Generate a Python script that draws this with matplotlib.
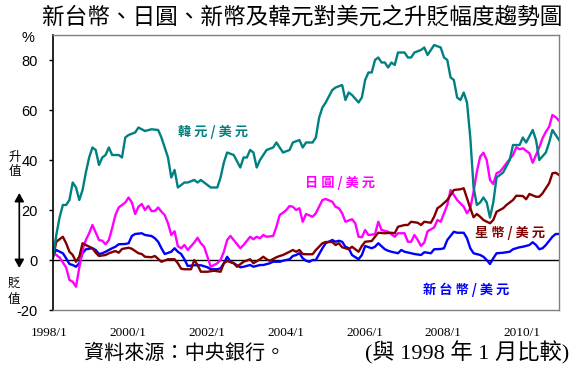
import matplotlib
matplotlib.use("Agg")
import matplotlib.pyplot as plt
from matplotlib.transforms import ScaledTranslation

plt.rcParams['axes.unicode_minus'] = False
CJK = ['Noto Sans CJK TC', 'DejaVu Sans']
SERIF = ['Liberation Serif', 'Noto Sans CJK TC', 'DejaVu Sans']
NARROW = ['Liberation Sans Narrow', 'Liberation Sans', 'DejaVu Sans']

# (months since 1998/1, % change vs 1998/1)
krw = [(0, 1), (1, 10), (2, 17), (3, 22), (4, 22), (5, 24), (6, 31), (7, 29), (8, 24), (9, 28),
       (10, 35), (11, 41), (12, 45), (13, 44), (14, 38), (15, 41), (16, 42), (17, 45), (18, 42),
       (20, 42), (21, 41), (22, 49), (23, 50), (25, 51), (26, 53), (28, 51.6), (30, 52.3),
       (32, 52), (33, 49), (35, 41), (36, 33), (37, 36), (38, 29), (40, 31), (41, 31), (43, 32),
       (44, 31), (45, 32), (47, 30), (48, 29), (50, 29), (51, 33), (52, 39), (53, 43), (55, 42),
       (57, 37), (58, 41), (59, 41), (60, 44), (61, 43), (62, 37), (63, 40), (64, 42), (65, 44),
       (67, 45), (68, 47), (69, 45), (70, 43), (72, 44), (73, 47), (75, 48), (76, 45), (77, 47),
       (79, 47), (80, 49), (81, 57), (82, 61), (83, 63), (85, 68), (86, 69), (88, 70), (89, 64),
       (90, 67), (91, 66), (93, 63), (94, 65), (95, 72), (96, 75), (97, 75), (98, 80), (99, 81),
       (100, 79), (101, 79), (102, 77), (103, 79), (104, 78), (105, 83), (107, 83), (108, 81),
       (109, 81), (110, 83), (112, 84), (113, 85), (114, 82), (116, 86), (118, 85), (119, 81),
       (120, 80), (121, 73), (122, 72), (123, 65), (124, 64), (125, 67), (126, 63), (127, 49),
       (128, 29), (129, 22), (130, 23), (131, 25), (132, 23), (133, 17), (134, 23), (135, 33),
       (137, 35), (139, 40), (140, 46), (142, 46), (143, 49), (144, 47), (146, 52), (147, 48),
       (148, 40), (150, 43), (151, 47), (152, 52), (153, 50), (154, 48)]

jpy = [(0, 3), (2, 1), (4, -3), (5, -8), (6, -8.7), (7, -10.7), (8, -3), (9, 4), (10, 8),
       (11, 10.7), (12, 14), (13, 11), (14, 8), (15, 7.7), (16, 6.3), (17, 8), (18, 12.7),
       (19, 18), (20, 21), (22, 23), (23, 25), (24, 23), (25, 18.4), (26, 21.3), (27, 22.4),
       (28, 20), (29, 21.6), (30, 19.6), (31, 19.6), (32, 21), (33, 19.3), (34, 18), (35, 14.7),
       (36, 10), (37, 11.5), (38, 5.5), (39, 4.7), (40, 6), (41, 4), (43, 7), (44, 8.9),
       (45, 6.7), (46, 5.3), (47, 1.3), (48, -2.7), (49, -2), (50, -1.3), (51, 0), (52, 3.3),
       (53, 8), (54, 9.6), (55, 8), (57, 4.7), (58, 6), (60, 9.3), (61, 8.3), (62, 9.3),
       (63, 8.7), (64, 10), (65, 9.3), (67, 9.6), (68, 13.3), (69, 18), (70, 18.9), (71, 20),
       (72, 21.6), (73, 21.3), (74, 20), (75, 20.7), (76, 15.3), (77, 18.4), (79, 17.3),
       (80, 18.7), (82, 24), (83, 24.4), (85, 23.3), (86, 21.3), (87, 20.7), (88, 18.7),
       (89, 15.3), (91, 16.3), (92, 14.7), (93, 9.3), (94, 9.1), (95, 12), (96, 10), (98, 10.3),
       (99, 15.3), (100, 12), (102, 11.3), (104, 9.3), (105, 10.7), (107, 10.7), (108, 7.3),
       (109, 7.3), (110, 10), (111, 8), (112, 5.6), (113, 7), (114, 11.5), (116, 13), (117, 16),
       (118, 15.3), (119, 18.7), (120, 22), (121, 28), (122, 26), (123, 24), (125, 21.3),
       (126, 18.7), (127, 20.7), (128, 27.3), (129, 35.3), (130, 41.3), (131, 42.9), (132, 40),
       (133, 32), (134, 30.4), (135, 34.7), (136, 35.3), (137, 36.9), (138, 38.7), (140, 42),
       (141, 45.1), (142, 44.3), (143, 44.7), (145, 42.7), (146, 38.9), (147, 42), (148, 45.1),
       (149, 48.7), (150, 51.3), (151, 53.3), (152, 58), (153, 57.1), (154, 55.7)]

sgd = [(0, 1), (1, 7.3), (3, 9.3), (4, 6.7), (5, 3.3), (6, 2), (7, -0.7), (8, 1.3), (9, 6.7),
       (10, 6), (12, 4.7), (13, 2.9), (14, 1.6), (16, 2), (17, 2.7), (19, 3.6), (20, 2.9),
       (21, 4.4), (23, 4.9), (24, 4.5), (26, 2.7), (27, 2.4), (28, 1.3), (30, 1.1), (31, 1.6),
       (33, -0.7), (35, 0.3), (37, 0.3), (38, -1.3), (39, -3.5), (40, -3.7), (42, -3.7),
       (43, 0), (44, -2), (45, -4.7), (47, -4.7), (49, -4.3), (51, -4.7), (52, -1.3),
       (53, -0.4), (55, -1.3), (56, -2.7), (58, -0.7), (60, 0.3), (61, -1.3), (63, 0.3),
       (64, 1.3), (65, 0.3), (66, -0.3), (68, 1.1), (69, 1.6), (70, 2), (72, 3.3), (73, 4),
       (74, 3.3), (75, 4), (76, 2.4), (77, 2.3), (79, 2.3), (80, 4), (82, 6.7), (83, 7.2),
       (85, 7.2), (86, 6), (87, 6.7), (88, 5.1), (90, 4.3), (91, 5.3), (92, 4.3), (93, 3.3),
       (94, 5.6), (95, 7.3), (97, 7.6), (98, 9.3), (99, 10.9), (101, 10.7), (103, 10.9),
       (104, 10.7), (105, 13.3), (107, 14), (108, 14), (109, 15.3), (111, 14.9), (112, 14),
       (113, 15.3), (115, 14.9), (116, 17.3), (117, 20.7), (118, 21.6), (120, 24), (121, 26),
       (122, 28), (124, 28.3), (125, 28.7), (126, 24.7), (127, 20.7), (128, 17.1), (129, 18.4),
       (130, 17.3), (131, 16), (133, 14.7), (134, 16), (135, 19.3), (137, 20.7), (138, 22),
       (140, 24), (141, 25.7), (143, 25.6), (144, 24.3), (145, 26.4), (147, 25.3), (148, 25.3),
       (149, 26.7), (151, 30.7), (152, 34.7), (153, 34.9), (154, 34)]

twd = [(0, 2), (1, 4), (3, 2.7), (4, 0.7), (5, -1.6), (6, -2), (7, -2.7), (8, -1.3), (9, 2.7),
       (10, 4.3), (12, 4.7), (13, 4), (14, 2.4), (15, 2.7), (16, 3.3), (18, 4.7), (19, 5.3),
       (20, 6.3), (22, 6.4), (23, 6.7), (24, 9.6), (25, 10.4), (27, 10.7), (28, 10), (30, 9.6),
       (31, 8.7), (32, 7.3), (33, 4.7), (34, 2.4), (36, 3.3), (37, 4.7), (38, 3.3), (39, 2.4),
       (40, 0.3), (41, -2.4), (43, -2.1), (45, -2.1), (47, -2.9), (48, -3.7), (50, -3.7),
       (51, -3.3), (52, -1.3), (53, 1.3), (54, -0.7), (55, -1.3), (57, -2.9), (58, -2.7),
       (60, -2), (61, -2.7), (63, -2), (64, -2), (66, -1.3), (67, -0.7), (69, -0.7), (70, -0.3),
       (72, 0.3), (73, 1.6), (74, 2), (75, 2.7), (76, 0.7), (77, -0.3), (78, -0.7), (79, 0),
       (80, 0), (82, 4.7), (83, 6.7), (85, 8), (86, 7.3), (87, 7.7), (88, 7.3), (89, 5.3),
       (90, 4.7), (91, 2), (93, 0.3), (94, 2), (95, 5.6), (97, 4.7), (98, 5.3), (99, 6.7),
       (101, 4.3), (102, 3.7), (103, 3.3), (105, 2.7), (106, 4), (107, 3.3), (109, 2.7),
       (110, 2.4), (112, 2), (113, 3.1), (115, 2.7), (116, 4.3), (118, 4.4), (119, 4.7),
       (120, 8), (122, 11.3), (123, 10.9), (125, 10.9), (126, 8.7), (127, 4.7), (128, 2.7),
       (130, 2), (131, 1.3), (132, 0), (133, -1.6), (134, 0.7), (135, 2.7), (137, 2.9),
       (139, 3.3), (140, 4.3), (142, 5.1), (143, 5.3), (145, 6), (146, 7.1), (147, 6),
       (148, 4.3), (149, 4.7), (150, 6), (152, 9.3), (153, 10.4), (154, 10.4)]

series_names = ['新 台 幣 / 美 元', '日 圓 / 美 元', '星 幣 / 美 元', '韓 元 / 美 元']
series_data = [twd, jpy, sgd, krw]
series_colors = ['#0000FF', '#FF00FF', '#800000', '#008080']

x_tick_pos = [0, 24, 48, 72, 96, 120, 144]
x_tick_labels = ['1998/1', '2000/1', '2002/1', '2004/1', '2006/1', '2008/1', '2010/1']
y_ticks = [-20, 0, 20, 40, 60, 80]

W, H = 583, 372
fig = plt.figure(figsize=(W / 100, H / 100), dpi=100)
fig.patch.set_facecolor('white')


def fx(px):
    return px / W


def fy(py):
    return 1 - py / H


ax = fig.add_axes([fx(53), fy(310), fx(559) - fx(53), fy(35) - fy(310)])
ax.set_xlim(0, 154)
ax.set_ylim(-20, 90)

ax.axhline(0, color='black', lw=1.0, zorder=1)
for data, col in zip(series_data, series_colors):
    m, v = zip(*data)
    ax.plot(m, v, color=col, lw=1.7, zorder=2, solid_joinstyle='round')

for side in ['top', 'right', 'bottom']:
    ax.spines[side].set_color('#808080')
    ax.spines[side].set_linewidth(1.0)
ax.spines['left'].set_color('black')
ax.spines['left'].set_linewidth(1.2)

ax.set_yticks(y_ticks)
ax.set_yticklabels([str(t) for t in y_ticks], family=NARROW, fontsize=10.5)
ax.tick_params(axis='y', direction='out', length=3, width=1, pad=8, colors='black')

ax.set_xticks(x_tick_pos)
ax.set_xticklabels(x_tick_labels, family=SERIF, fontsize=9.5)
ax.tick_params(axis='x', length=0, pad=12)
shift = ScaledTranslation(-4 / 100, 0, fig.dpi_scale_trans)
for lab in ax.get_xticklabels():
    lab.set_transform(lab.get_transform() + shift)

# Title
fig.text(fx(302), fy(17), '新台幣、日圓、新幣及韓元對美元之升貶幅度趨勢圖',
         family=CJK, fontsize=16.3, ha='center', va='center')
fig.text(fx(28), fy(38), '%', family=NARROW, fontsize=10.5, ha='center', va='center')

# Series labels
label_pos = [(466, 290), (340, 183), (510, 233), (213, 132)]
for name, col, (px, py) in zip(series_names, series_colors, label_pos):
    fig.text(fx(px), fy(py), name, family=CJK, fontsize=9.5, fontweight='bold',
             color=col, ha='center', va='center')

# Appreciation / depreciation markers
fig.text(fx(15), fy(157), '升', family=CJK, fontsize=9, ha='center', va='center')
fig.text(fx(15), fy(172), '值', family=CJK, fontsize=9, ha='center', va='center')
fig.text(fx(14), fy(283), '貶', family=CJK, fontsize=9, ha='center', va='center')
fig.text(fx(14), fy(300), '值', family=CJK, fontsize=9, ha='center', va='center')
fig.add_artist(matplotlib.patches.FancyArrowPatch(
    (fx(19.3), fy(193)), (fx(19.3), fy(268)), transform=fig.transFigure,
    arrowstyle='<|-|>,head_length=5,head_width=2.8', color='black', lw=1.2,
    shrinkA=0, shrinkB=0))

# Footer
fig.text(fx(185), fy(353), '資料來源：中央銀行。', family=CJK, fontsize=14.5,
         ha='center', va='center')
fig.text(fx(467), fy(353), '(與 1998 年 1 月比較)', family=SERIF, fontsize=16,
         ha='center', va='center')

fig.savefig('out.png', dpi=100)
